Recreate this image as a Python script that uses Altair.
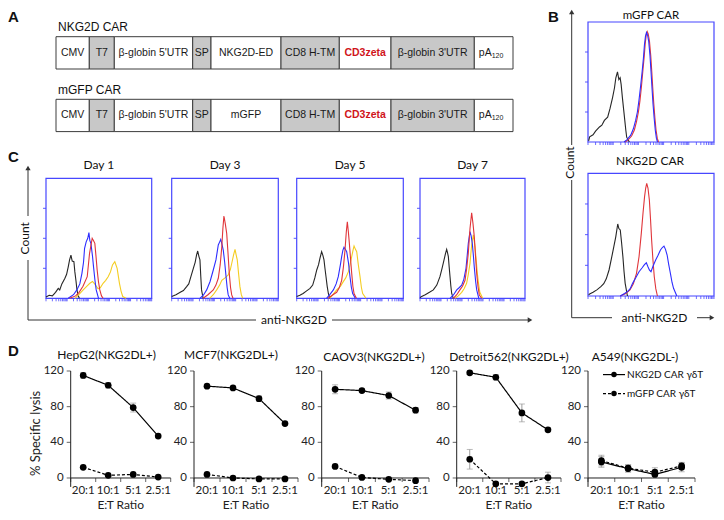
import math
import altair as alt
import pandas as pd

W, H = 708, 504
FRAME = "#4747ff"
CK, CR, CB, CY = "#262626", "#e0353a", "#2d2dff", "#f4cd22"
GRAY = "#9c9c9c"
AX = "#222222"

# ---------------- Panel A : constructs ----------------
CONSTRUCTS = ["NKG2D CAR", "mGFP CAR"]
SEG_NKG2D = ["CMV", "T7", "β-globin 5'UTR", "SP", "NKG2D-ED", "CD8 H-TM", "CD3zeta", "β-globin 3'UTR", "pA"]
SEG_MGFP = ["CMV", "T7", "β-globin 5'UTR", "SP", "mGFP", "CD8 H-TM", "CD3zeta", "β-globin 3'UTR", "pA"]
SEG_LEN = [33.3, 25, 78.4, 18.3, 70, 58.3, 51.7, 83.3, 38.7]
SEG_SHADE = ["w", "g", "w", "g", "w", "g", "w", "g", "w"]

# ---------------- Panel B : histograms (x = % of log axis, y = % of max) ----------------
BT_BLACK_X = [0.5, 1.3, 4, 6, 9.1, 11, 13, 15.6, 17.5, 19.5, 21, 22.1, 23.4, 24.5, 25.5, 26.3, 27.3, 28.3, 29.2, 30, 30.7, 32.8]
BT_BLACK_Y = [1, 4.3, 6, 9, 12.5, 14, 18, 20.7, 28, 37, 45, 53.5, 58.4, 52, 53.5, 48, 37, 27, 18, 10, 4, 0]
BT_RED_X = [29.5, 32, 34.6, 36.8, 38.5, 40, 41.2, 42.4, 43.6, 44.6, 45.4, 46.2, 47, 47.8, 48.8, 49.8, 50.6, 51.4, 52.2, 53.1, 54, 55, 56]
BT_RED_Y = [0, 2, 5, 10, 17, 25, 34, 46, 60, 71, 82, 89, 92, 90, 84, 72, 59, 45, 32, 20, 10, 3, 0]
BT_BLUE_X = [28.6, 31, 33.9, 36, 37.8, 39.2, 40.4, 41.7, 43, 44, 44.8, 45.6, 46.4, 47.3, 48.2, 49.2, 50, 50.8, 51.6, 52.5, 53.4, 54.3, 55.2]
BT_BLUE_Y = [0, 2, 5.7, 11, 18, 25, 34.4, 46, 59, 70, 81, 88, 91.2, 89, 83.6, 72, 59, 45, 31.7, 20, 9.8, 3, 0]

BB_BLACK_X = [0.5, 1.3, 4, 7, 10.2, 12.5, 14.5, 16.7, 18.5, 20.5, 22, 23.6, 24.5, 25.6, 26.6, 27.7, 28.6, 29.5, 31.3]
BB_BLACK_Y = [1, 1.6, 3, 5, 7.6, 10, 14, 21.2, 30, 40.2, 48, 58.7, 55, 53.8, 44, 32, 20, 10.3, 0]
BB_RED_X = [25.6, 30, 33.3, 36, 38.5, 40.5, 42.3, 43.7, 44.9, 45.8, 46.6, 47.6, 48.7, 49.6, 50.5, 51.5, 52.6, 53.8, 55.1]
BB_RED_Y = [0, 2, 4.9, 10, 18.5, 32, 51, 68, 81, 88, 91.8, 88, 78.2, 63, 45.6, 30, 15.7, 6, 0]
BB_BLUE_X = [25.6, 29, 31.5, 33.5, 35.4, 38, 40.5, 43, 44.8, 46.3, 47.5, 48.8, 50, 51.5, 53.7, 55.5, 57.5, 59, 60.3, 61.5, 62.8, 64, 65.4, 66.7, 67.9, 70.5]
BB_BLUE_Y = [0, 2, 3.8, 6, 10.3, 15, 19.8, 23, 25.5, 27.1, 24, 21, 19.8, 24, 29.3, 33, 37.5, 39.5, 40.7, 38, 33.4, 26, 18.5, 11, 6.3, 0]

# ---------------- Panel C : Day 1/3/5/7 ----------------
D1_BLACK_X = [0, 3, 6, 9, 11.6, 13, 15, 17.9, 19.5, 21, 22.3, 23.6, 24.8, 26.4, 27.3, 28.3, 29.3, 30.2, 31.5]
D1_BLACK_Y = [1, 2.5, 2, 5, 8.3, 7, 12, 16.7, 20, 26, 32, 36, 31, 30.5, 22, 15, 7, 2.8, 0]
D1_YEL_X = [27.4, 31, 35.2, 38.5, 41.5, 44, 46, 49.3, 51.5, 54, 56.5, 58.8, 61, 62.9, 65.1, 67.3, 68.5, 69.5, 71, 72.6, 75.8]
D1_YEL_Y = [0, 3, 7, 10, 12.5, 14, 12, 8, 9, 12.5, 15, 18, 22, 27.8, 30.5, 25, 18, 12.5, 6, 1.5, 0]
D1_BLUE_X = [21, 26, 29.2, 32, 34, 35.5, 36.5, 38, 39.5, 40.6, 41.5, 42.5, 44, 45, 46.3, 47.5, 49.7]
D1_BLUE_Y = [0, 3, 7, 12, 20.8, 30, 41.7, 47, 50, 54.7, 48, 45.8, 35, 26, 15, 7, 0]
D1_RED_X = [22.3, 28, 31.3, 35, 39, 41.2, 42.5, 43.7, 45, 46.2, 47.3, 48.4, 49.6, 50.9, 52.5, 54]
D1_RED_Y = [0, 2, 5, 10, 18, 37.5, 44, 50, 48, 45.8, 35, 23.6, 14, 7, 2, 0]

D3_BLACK_X = [0, 4, 8, 11, 14, 16, 18, 20.3, 22, 23.3, 24.4, 25.5, 26.5, 27.3, 28, 29.5]
D3_BLACK_Y = [1.5, 3, 5, 6.5, 9.7, 12, 18, 25, 30, 36, 39.4, 35, 32, 18, 7, 0]
D3_YEL_X = [35.6, 39, 42.2, 45, 47, 50, 53, 55, 56.3, 58, 59.4, 60.5, 61.5, 62.8, 64, 65.3, 66.6]
D3_YEL_Y = [0, 3, 7, 11, 15, 17, 19.4, 24, 29, 36, 40.8, 36, 32, 20, 9.7, 3, 0]
D3_BLUE_X = [26.5, 30, 32.8, 36, 39, 41.5, 43.7, 45, 46, 47.2, 48.4, 49.7, 51, 52, 53, 54.5]
D3_BLUE_Y = [0, 3, 7, 14, 23.6, 32, 44.4, 47, 49, 45, 40, 30, 18, 9, 2.8, 0]
D3_RED_X = [29.5, 34, 39, 41.5, 43.7, 45.5, 47, 48, 49, 50.3, 51.6, 52.8, 54, 55.2, 56.3, 57.5]
D3_RED_Y = [0, 3, 7, 11, 16.7, 28, 43, 58, 68.6, 62, 54, 38, 20.8, 9, 2.8, 0]

D5_BLACK_X = [0, 3, 6, 9, 12.5, 15, 17, 18.8, 20.5, 22, 23.4, 24.5, 25.6, 26.5, 27.5, 28.6, 29.7, 31]
D5_BLACK_Y = [1.5, 2.5, 4, 6, 8.3, 11, 17, 23.6, 28, 34, 38.9, 36, 32, 25, 18, 10, 4, 0]
D5_YEL_X = [31, 34, 37.5, 41, 43.7, 46, 48.4, 50, 51.6, 52.8, 53.8, 55, 56.3, 57.8, 59.4, 60.7, 61.9, 65]
D5_YEL_Y = [0, 3, 7, 10, 13.9, 17, 22, 28, 34.7, 40, 43.6, 41, 38.9, 28, 18, 9, 4, 0]
D5_BLUE_X = [28, 31, 34.4, 37, 39, 41, 42.2, 43.3, 44.4, 45.5, 46.9, 48.5, 50, 51.3, 52.5, 55]
D5_BLUE_Y = [0, 3, 7, 12, 18, 28, 34.7, 40, 42.5, 41, 38.9, 30, 18, 9, 4, 0]
D5_RED_X = [29.4, 34, 37.5, 40, 42.2, 43.8, 45.3, 46.5, 47.5, 48.5, 49.4, 50.5, 51.6, 52.7, 53.8, 56]
D5_RED_Y = [0, 3, 5, 9, 15, 26, 40, 55, 63.8, 55, 45.8, 33, 20.8, 10, 4, 0]

D7_BLACK_X = [0, 1.6, 5, 9, 12.7, 16, 19, 21, 22.9, 24.2, 25.4, 26.2, 27, 27.8, 28.6, 29.4, 30.2, 31.7]
D7_BLACK_Y = [0.5, 1.6, 3, 5, 7, 11, 18, 25, 32, 37, 40.8, 38, 34.7, 26, 18, 10, 4, 0]
D7_YEL_X = [33.3, 36.5, 39.7, 42, 44.4, 46, 47.6, 48.4, 49.2, 50, 50.8, 51.6, 52.4, 53.5, 54.6, 55.8, 57, 59.7]
D7_YEL_Y = [0, 2, 5, 8, 12.5, 20, 29, 37, 44.4, 49, 52.8, 48, 43, 32, 20.8, 12, 5, 0]
D7_BLUE_X = [28.6, 32, 35, 37.5, 39.7, 41.8, 43.8, 45, 46, 47.6, 48.7, 49.8, 50.8, 51.7, 53, 54, 56]
D7_BLUE_Y = [0, 3, 7, 9, 11, 16, 25, 36, 45.8, 55.5, 52, 45.8, 36, 26, 14, 7, 0]
D7_RED_X = [31.7, 35, 38, 40.5, 42.9, 44.5, 46, 47.6, 49.2, 50.5, 51.7, 52.8, 54, 55.2, 56.5, 58.7]
D7_RED_Y = [0, 3, 7, 10, 15, 25, 37.5, 58, 71.3, 62, 51.4, 36, 20.8, 10, 2.8, 0]

DAYS = ["Day 1", "Day 3", "Day 5", "Day 7"]

# ---------------- Panel D : cytotoxicity ----------------
RATIOS = ["20:1", "10:1", "5:1", "2.5:1"]
Y_TICKS = [0, 40, 80, 120]
CELL_LINES = ["HepG2(NKG2DL+)", "MCF7(NKG2DL+)", "CAOV3(NKG2DL+)", "Detroit562(NKG2DL+)", "A549(NKG2DL-)"]
HEPG2_NK = [115, 104, 79, 47]
HEPG2_NK_ERR = [3, 3, 5, 2]
HEPG2_GF = [12, 3, 4, 1]
HEPG2_GF_ERR = [1.5, 1, 1, 1]
MCF7_NK = [103, 101, 89, 61]
MCF7_NK_ERR = [1, 1.5, 3, 1.5]
MCF7_GF = [4, 0, -1, -1]
MCF7_GF_ERR = [0, 0, 0, 0]
CAOV3_NK = [99.5, 98, 92.5, 76]
CAOV3_NK_ERR = [5, 2, 4, 3]
CAOV3_GF = [13, 0.6, -1.5, -3]
CAOV3_GF_ERR = [0, 0, 0, 0]
DETROIT_NK = [118, 113, 73, 54]
DETROIT_NK_ERR = [2, 3, 10, 2]
DETROIT_GF = [21, -6.5, -6.5, 0.5]
DETROIT_GF_ERR = [11, 1, 1, 6]
A549_NK = [18, 10.5, 4, 12]
A549_NK_ERR = [6, 4, 4, 5]
A549_GF = [19.5, 11, 6.5, 13.5]
A549_GF_ERR = [6, 4, 5, 4]


# ======================================================================
def texts(rows, **kw):
    df = pd.DataFrame(rows, columns=["x", "y", "t"])
    return alt.Chart(df).mark_text(**kw).encode(
        x=alt.X("x:Q", scale=None, axis=None),
        y=alt.Y("y:Q", scale=None, axis=None),
        text="t:N",
    )


# ---------- Panel A chart ----------
rows = []
for c, labels in zip(CONSTRUCTS, [SEG_NKG2D, SEG_MGFP]):
    s = 0.0
    for lab, ln, sh in zip(labels, SEG_LEN, SEG_SHADE):
        kind = "red" if lab == "CD3zeta" else ("pa" if lab == "pA" else "n")
        rows.append(dict(construct=c, label=lab, start=s, end=s + ln, mid=s + ln / 2,
                         shade=sh, kind=kind, sub="120"))
        s += ln
dfA = pd.DataFrame(rows)
xA = alt.Scale(domain=[0, sum(SEG_LEN)], range=[48, 505], nice=False, zero=False)
yA = alt.Scale(type="band", domain=CONSTRUCTS, range=[28.7, 123.6], paddingInner=0.484, paddingOuter=0)
yA_txt = alt.Y("construct:N", scale=yA, axis=None, bandPosition=0.5)

a_rect = alt.Chart(dfA).mark_rect(stroke="#3c3c3c", strokeWidth=1).encode(
    x=alt.X("start:Q", scale=xA, axis=None), x2="end:Q",
    y=alt.Y("construct:N", scale=yA, axis=None),
    fill=alt.Fill("shade:N", scale=alt.Scale(domain=["w", "g"], range=["#ffffff", "#c8c8c8"]), legend=None),
)
a_txt = alt.Chart(dfA[dfA.kind == "n"]).mark_text(font="Liberation Sans", fontSize=10.5, color="#1a1a1a").encode(
    x=alt.X("mid:Q", scale=xA, axis=None), y=yA_txt, text="label:N")
a_red = alt.Chart(dfA[dfA.kind == "red"]).mark_text(font="Liberation Sans", fontSize=10.5, fontWeight="bold", color="#d0141b").encode(
    x=alt.X("mid:Q", scale=xA, axis=None), y=yA_txt, text="label:N")
a_pa = alt.Chart(dfA[dfA.kind == "pa"]).mark_text(font="Liberation Sans", fontSize=10.5, color="#1a1a1a", align="right", dx=-2).encode(
    x=alt.X("mid:Q", scale=xA, axis=None), y=yA_txt, text="label:N")
a_sub = alt.Chart(dfA[dfA.kind == "pa"]).mark_text(font="Liberation Sans", fontSize=7, color="#1a1a1a", align="left", dx=-2, dy=3).encode(
    x=alt.X("mid:Q", scale=xA, axis=None), y=yA_txt, text="sub:N")
dfAT = pd.DataFrame({"construct": CONSTRUCTS, "x": [0, 0]})
a_title = alt.Chart(dfAT).mark_text(font="Liberation Sans", fontSize=12, color="#111", align="left", dx=2, dy=-25.5).encode(
    x=alt.X("x:Q", scale=xA, axis=None), y=yA_txt, text="construct:N")
panelA = alt.layer(a_rect, a_txt, a_red, a_pa, a_sub, a_title)

# ---------- Histogram panels ----------
LOG_TICKS = [round((d + math.log10(k)) * 20, 3) for d in range(5) for k in range(1, 10)] + [100]


def hist(curves, x0, x1, yb, yt):
    xs = alt.Scale(domain=[0, 100], range=[x0, x1], nice=False, zero=False)
    ys = alt.Scale(domain=[0, 100], range=[yb, yt], nice=False, zero=False)
    tlx = 3 * 100 / (x1 - x0)
    tly = 3 * 100 / (yb - yt)
    fdf = pd.DataFrame({"a": [0], "a2": [100], "b": [0], "b2": [100]})
    frame = alt.Chart(fdf).mark_rect(fillOpacity=0, stroke=FRAME, strokeWidth=1.2).encode(
        x=alt.X("a:Q", scale=xs, axis=None), x2="a2:Q",
        y=alt.Y("b:Q", scale=ys, axis=None), y2="b2:Q")
    ldf = pd.DataFrame({"y": [25, 50, 75]})
    ldf["x"] = -tlx
    ldf["x2"] = 0
    lticks = alt.Chart(ldf).mark_rule(color=FRAME, strokeWidth=0.9).encode(
        x=alt.X("x:Q", scale=xs, axis=None), x2="x2:Q", y=alt.Y("y:Q", scale=ys, axis=None))
    bdf = pd.DataFrame({"x": LOG_TICKS})
    bdf["y"] = -tly
    bdf["y2"] = 0
    bticks = alt.Chart(bdf).mark_rule(color=FRAME, strokeWidth=0.8).encode(
        x=alt.X("x:Q", scale=xs, axis=None), y=alt.Y("y:Q", scale=ys, axis=None), y2="y2:Q")
    layers = [frame, lticks, bticks]
    for xv, yv, col in curves:
        df = pd.DataFrame({"x": xv, "y": yv, "i": list(range(len(xv)))})
        layers.append(alt.Chart(df).mark_line(color=col, strokeWidth=1.1).encode(
            x=alt.X("x:Q", scale=xs, axis=None),
            y=alt.Y("y:Q", scale=ys, axis=None),
            order="i:Q"))
    return alt.layer(*layers)


B_X = (580, 706)
panelBtop = hist([(BT_BLACK_X, BT_BLACK_Y, CK), (BT_RED_X, BT_RED_Y, CR), (BT_BLUE_X, BT_BLUE_Y, CB)],
                 B_X[0], B_X[1], 134, 14)
panelBbot = hist([(BB_BLACK_X, BB_BLACK_Y, CK), (BB_RED_X, BB_RED_Y, CR), (BB_BLUE_X, BB_BLUE_Y, CB)],
                 B_X[0], B_X[1], 288, 165.3)

C_BOXES = [(38, 143.7), (163.7, 270.3), (288.7, 395.3), (412, 517)]
C_CURVES = [
    [(D1_BLACK_X, D1_BLACK_Y, CK), (D1_YEL_X, D1_YEL_Y, CY), (D1_BLUE_X, D1_BLUE_Y, CB), (D1_RED_X, D1_RED_Y, CR)],
    [(D3_BLACK_X, D3_BLACK_Y, CK), (D3_YEL_X, D3_YEL_Y, CY), (D3_BLUE_X, D3_BLUE_Y, CB), (D3_RED_X, D3_RED_Y, CR)],
    [(D5_BLACK_X, D5_BLACK_Y, CK), (D5_YEL_X, D5_YEL_Y, CY), (D5_BLUE_X, D5_BLUE_Y, CB), (D5_RED_X, D5_RED_Y, CR)],
    [(D7_BLACK_X, D7_BLACK_Y, CK), (D7_YEL_X, D7_YEL_Y, CY), (D7_BLUE_X, D7_BLUE_Y, CB), (D7_RED_X, D7_RED_Y, CR)],
]
panelsC = [hist(cv, bx[0], bx[1], 290.3, 170.3) for cv, bx in zip(C_CURVES, C_BOXES)]

# ---------- Panel D ----------
D_YR = (478.9, 363)   # pixel range for y domain [-10, 120]
D_X = [(62.7, 162.7), (186, 290), (313.7, 421), (448.7, 553), (580, 687)]
D_DATA = [(HEPG2_NK, HEPG2_NK_ERR, HEPG2_GF, HEPG2_GF_ERR),
          (MCF7_NK, MCF7_NK_ERR, MCF7_GF, MCF7_GF_ERR),
          (CAOV3_NK, CAOV3_NK_ERR, CAOV3_GF, CAOV3_GF_ERR),
          (DETROIT_NK, DETROIT_NK_ERR, DETROIT_GF, DETROIT_GF_ERR),
          (A549_NK, A549_NK_ERR, A549_GF, A549_GF_ERR)]


def dpanel(nk, nke, gf, gfe, x0, x1, ytitle):
    rows = []
    for s, vals, errs in (("NKG2D", nk, nke), ("mGFP", gf, gfe)):
        for i, (v, e) in enumerate(zip(vals, errs)):
            rows.append(dict(xi=i, value=v, lo=v - e, hi=v + e, err=e, series=s))
    df = pd.DataFrame(rows)
    dfe = df[df.err > 0.5]
    xs = alt.Scale(domain=[-0.5, 3.5], range=[x0, x1], nice=False, zero=False)
    ys = alt.Scale(domain=[-10, 120], range=[D_YR[0], D_YR[1]], nice=False, zero=False)

    def XQ(f):
        return alt.X(f, type="quantitative", scale=xs, axis=None)

    def YQ(f):
        return alt.Y(f, type="quantitative", scale=ys, axis=None)

    axdf = pd.DataFrame({"x": [-0.5, -0.5], "x2": [-0.5, 3.5], "y": [-10, 0], "y2": [120, 0]})
    axes = alt.Chart(axdf).mark_rule(color=AX, strokeWidth=1).encode(
        x=XQ("x"), x2="x2:Q", y=YQ("y"), y2="y2:Q")
    ytdf = pd.DataFrame({"x": [-0.5] * len(Y_TICKS), "y": Y_TICKS, "lab": [str(v) for v in Y_TICKS]})
    yticks = alt.Chart(ytdf).mark_tick(orient="horizontal", size=4, thickness=1, xOffset=-2, color=AX).encode(
        x=XQ("x"), y=YQ("y"))
    ylabs = alt.Chart(ytdf).mark_text(align="right", dx=-7, font="Lato", fontSize=11.5, color=AX).encode(
        x=XQ("x"), y=YQ("y"), text="lab:N")
    xtdf = pd.DataFrame({"x": [-0.5, 0.5, 1.5, 2.5, 3.5], "y": [0] * 5})
    xticks = alt.Chart(xtdf).mark_tick(orient="vertical", size=4, thickness=1, yOffset=2, color=AX).encode(
        x=XQ("x"), y=YQ("y"))
    xldf = pd.DataFrame({"x": list(range(len(RATIOS))), "y": [0] * len(RATIOS), "lab": RATIOS})
    xlabs = alt.Chart(xldf).mark_text(dy=13, font="Lato", fontSize=11.5, color=AX).encode(
        x=XQ("x"), y=YQ("y"), text="lab:N")
    ttdf = pd.DataFrame({"x": [1.5], "y": [0], "lab": ["E:T Ratio"]})
    xtitle = alt.Chart(ttdf).mark_text(dy=27, font="Lato", fontSize=12, color=AX).encode(
        x=XQ("x"), y=YQ("y"), text="lab:N")

    line = alt.Chart(df).mark_line(color="black", strokeWidth=1.2).encode(
        x=XQ("xi"), y=YQ("value"),
        strokeDash=alt.StrokeDash("series:N", scale=alt.Scale(domain=["NKG2D", "mGFP"], range=[[1, 0], [3, 2]]),
                                  legend=None),
        order="xi:Q")
    rule = alt.Chart(dfe).mark_rule(color=GRAY, strokeWidth=1).encode(
        x=XQ("xi"), y=YQ("lo"), y2="hi:Q")
    cap_lo = alt.Chart(dfe).mark_tick(orient="horizontal", color=GRAY, size=6, thickness=1).encode(
        x=XQ("xi"), y=YQ("lo"))
    cap_hi = alt.Chart(dfe).mark_tick(orient="horizontal", color=GRAY, size=6, thickness=1).encode(
        x=XQ("xi"), y=YQ("hi"))
    pts = alt.Chart(df).mark_circle(size=45, color="black", opacity=1).encode(
        x=XQ("xi"), y=YQ("value"))
    layers = [axes, yticks, ylabs, xticks, xlabs, xtitle, line, rule, cap_lo, cap_hi, pts]
    if ytitle:
        ytd = pd.DataFrame({"x": [-0.5], "y": [50], "lab": [ytitle]})
        layers.append(alt.Chart(ytd).mark_text(angle=270, xOffset=-35, font="Lato", fontSize=13, color=AX).encode(
            x=XQ("x"), y=YQ("y"), text="lab:N"))
    return alt.layer(*layers)


panelsD = [dpanel(*d, x[0], x[1], "% Specific lysis" if k == 0 else "")
           for k, (d, x) in enumerate(zip(D_DATA, D_X))]

# ---------- annotations ----------
letters = texts([(0, 2, "A"), (540, 2, "B"), (0, 142, "C"), (0, 336, "D")],
                font="Liberation Sans", fontSize=15, fontWeight="bold", align="left", baseline="top", color="#111")
labels12 = texts([(642, 152.7, "NKG2D CAR"), (646.5, 309.7, "anti-NKG2D"),
                  (286, 312, "anti-NKG2D")] +
                 [((bx[0] + bx[1]) / 2, 157, d) for bx, d in zip(C_BOXES, DAYS)],
                 font="Lato", fontSize=12, color="#111", baseline="middle")
btitle = texts([(643, 8, "mGFP CAR")], font="Lato", fontSize=11.5, color="#111", baseline="middle")
counts = texts([(562, 154.5, "Count"), (16.7, 230.3, "Count")],
               font="Lato", fontSize=12, color="#111", angle=270, baseline="middle")
dtitles = texts([(98.5, 347, CELL_LINES[0]), (223, 347, CELL_LINES[1]), (366, 348.5, CELL_LINES[2]),
                 (501, 348.5, CELL_LINES[3]), (627, 348.5, CELL_LINES[4])],
                font="Lato", fontSize=12, color="#111", baseline="middle")
legtxt = texts([(619, 366.6, "NKG2D CAR γδT"), (619, 385.6, "mGFP CAR γδT")],
               font="Lato", fontSize=10, color="#111", align="left", baseline="middle")

VRULES = [(563.7, 4, 137), (563.7, 172, 309.7), (20, 160, 208), (20, 252, 312)]
HRULES = [(563.7, 604, 309.7), (689, 703, 309.7), (20, 248, 312), (324, 521, 312)]
vr = alt.Chart(pd.DataFrame(VRULES, columns=["x", "y", "y2"])).mark_rule(color="#333", strokeWidth=1).encode(
    x=alt.X("x:Q", scale=None, axis=None), y=alt.Y("y:Q", scale=None, axis=None), y2="y2:Q")
hr = alt.Chart(pd.DataFrame(HRULES, columns=["x", "x2", "y"])).mark_rule(color="#333", strokeWidth=1).encode(
    x=alt.X("x:Q", scale=None, axis=None), x2="x2:Q", y=alt.Y("y:Q", scale=None, axis=None))
up = alt.Chart(pd.DataFrame([(563.7, 4), (20, 160)], columns=["x", "y"])).mark_point(
    shape="triangle-up", filled=True, size=28, color="#333", opacity=1).encode(
    x=alt.X("x:Q", scale=None, axis=None), y=alt.Y("y:Q", scale=None, axis=None))
right = alt.Chart(pd.DataFrame([(704, 309.7), (522, 312)], columns=["x", "y"])).mark_point(
    shape="triangle-right", filled=True, size=28, color="#333", opacity=1).encode(
    x=alt.X("x:Q", scale=None, axis=None), y=alt.Y("y:Q", scale=None, axis=None))

leg_solid = alt.Chart(pd.DataFrame([(595, 617, 366.6)], columns=["x", "x2", "y"])).mark_rule(
    color="black", strokeWidth=1.2).encode(
    x=alt.X("x:Q", scale=None, axis=None), x2="x2:Q", y=alt.Y("y:Q", scale=None, axis=None))
leg_dash = alt.Chart(pd.DataFrame([(595, 617, 385.6)], columns=["x", "x2", "y"])).mark_rule(
    color="black", strokeWidth=1.2, strokeDash=[3, 2]).encode(
    x=alt.X("x:Q", scale=None, axis=None), x2="x2:Q", y=alt.Y("y:Q", scale=None, axis=None))
leg_pts = alt.Chart(pd.DataFrame([(606, 366.6), (606, 385.6)], columns=["x", "y"])).mark_circle(
    size=30, color="black", opacity=1).encode(
    x=alt.X("x:Q", scale=None, axis=None), y=alt.Y("y:Q", scale=None, axis=None))

chart = alt.layer(
    panelA, panelBtop, panelBbot, *panelsC, *panelsD,
    letters, labels12, btitle, counts, dtitles, legtxt, vr, hr, up, right, leg_solid, leg_dash, leg_pts
).resolve_scale(
    x="independent", y="independent"
).properties(
    width=W, height=H, padding=0, background="white"
).configure_view(
    strokeWidth=0
).configure_axis(
    grid=False
)

chart.save("out.html", embed_options={"renderer": "svg", "actions": False})
